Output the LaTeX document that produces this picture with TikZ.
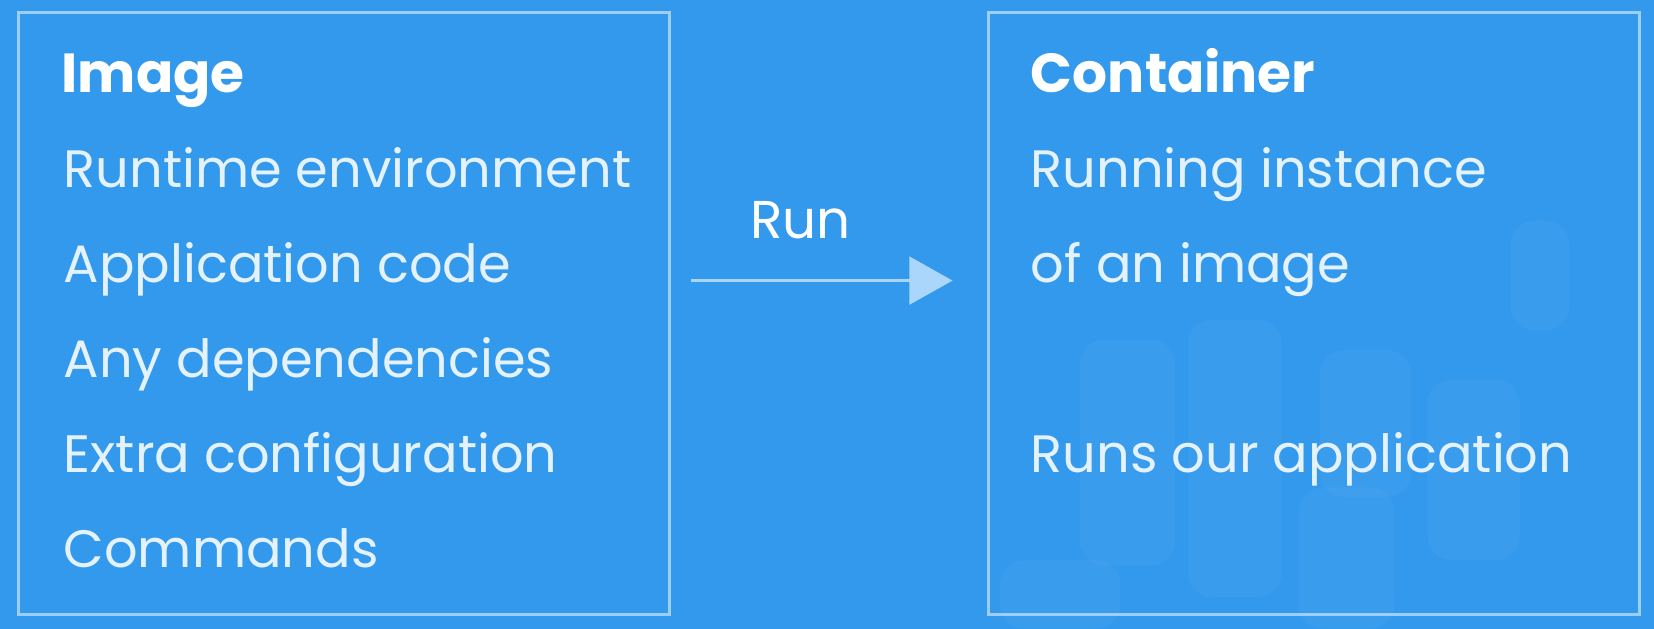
\documentclass[tikz,border=0pt]{standalone}
\usepackage{fontspec}
\setmainfont{Poppins}
\definecolor{bg}{HTML}{3399EC}
\definecolor{frame}{HTML}{9CCEF6}
\definecolor{txt}{HTML}{E4F2FD}
\definecolor{arr}{HTML}{A9D6FA}
\begin{document}
\begin{tikzpicture}[x=0.5274pt,y=-0.5274pt,
  panel/.style={draw=frame,line width=1.5pt},
  head/.style={anchor=base west,inner sep=0pt,text=white,font=\fontsize{27.5}{30}\selectfont\bfseries},
  item/.style={anchor=base west,inner sep=0pt,text=txt,font=\fontsize{26.3}{30}\selectfont},
  deco/.style={fill=white,fill opacity=0.03,rounded corners=12pt,draw=none}]
\fill[bg] (0,0) rectangle (1568,596);
\useasboundingbox (0,0) rectangle (1568,596);
% faint decorative squares
\fill[deco] (1024,322) rectangle (1114,536);
\fill[deco] (1126,303) rectangle (1215,566);
\fill[deco] (1231,462) rectangle (1322,596);
\fill[deco] (1251,332) rectangle (1338,471);
\fill[deco] (948,531) rectangle (1062,596);
\fill[deco] (1353,360) rectangle (1441,531);
\fill[deco] (1432,209) rectangle (1488,313);
% panels
\node[panel,minimum width=617*0.5274pt,minimum height=571*0.5274pt,anchor=north west,inner sep=0pt] (imgbox) at (16,10) {};
\node[panel,minimum width=617*0.5274pt,minimum height=571*0.5274pt,anchor=north west,inner sep=0pt] (conbox) at (936,10) {};
% left text
\node[head] (t1) at (58,88) {Image};
\node[item] (t2) at (60,178) {Runtime environment};
\node[item] (t3) at (60,268) {Application code};
\node[item] (t4) at (60,358) {Any dependencies};
\node[item] (t5) at (60,448) {Extra configuration};
\node[item] (t6) at (60,538) {Commands};
% right text
\node[head] (c1) at (977,88) {Container};
\node[item] (c2) at (977,178) {Running instance};
\node[item] (c3) at (977,268) {of an image};
\node[item] (c4) at (977,448) {Runs our application};
% arrow
\coordinate (a0) at (655,266);
\coordinate (a1) at (903,266);
\draw[arr,line width=1.3pt] (a0) -- (866,266);
\fill[arr] (862,243) -- (a1) -- (862,289) -- cycle;
\node[item,text=white,anchor=base,font=\fontsize{26.6}{30}\selectfont] (run) at (759,226) {Run};
\end{tikzpicture}
\end{document}
